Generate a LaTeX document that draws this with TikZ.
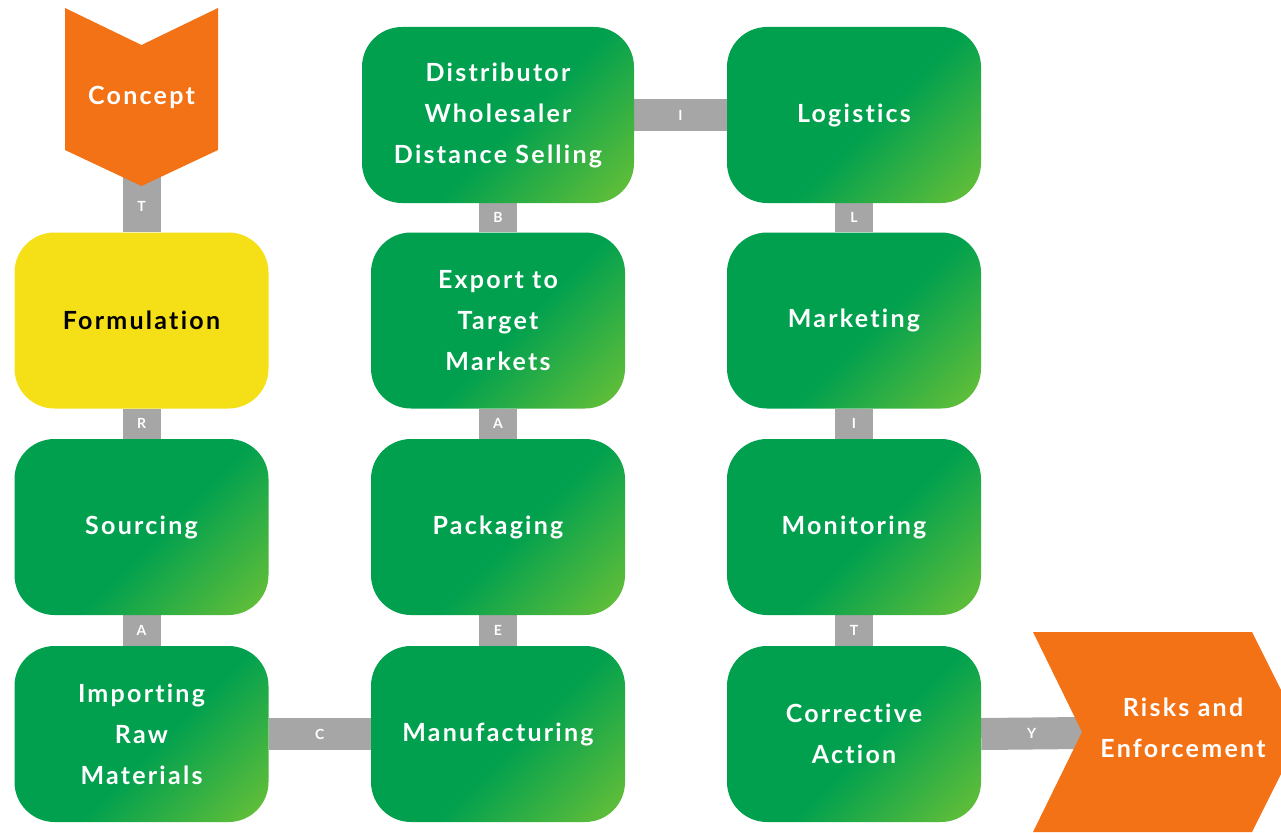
\documentclass[tikz,border=0pt]{standalone}
\usepackage{fontspec}
\setmainfont{Lato}[LetterSpace=9, Ligatures=NoCommon]
\usetikzlibrary{backgrounds}

\definecolor{gdark}{HTML}{00A04F}
\definecolor{glight}{HTML}{6DC236}
\definecolor{corange}{HTML}{F47216}
\definecolor{cyellow}{HTML}{F5DF16}
\definecolor{cgrey}{HTML}{A6A6A6}
\pgfdeclarehorizontalshading{greenfade}{100bp}{color(0bp)=(gdark); color(54bp)=(gdark); color(86bp)=(glight); color(100bp)=(glight)}

\begin{document}
\begin{tikzpicture}[
	x = 1pt, y = -1pt,
	stagebox/.style = {rectangle, rounded corners=40pt, minimum width=254pt, minimum height=176pt,
		align=center, text=white, font=\fontsize{25}{41}\selectfont\bfseries},
	greenbox/.style = {stagebox, shade, shading=greenfade, shading angle=-45},
	yellowbox/.style = {stagebox, fill=cyellow, text=black},
	arrowtext/.style = {align=center, text=white, font=\fontsize{25}{41}\selectfont\bfseries},
	vbar/.style = {cgrey, line width=38pt},
	hbar/.style = {cgrey, line width=32pt},
	barlabel/.style = {text=white, font=\fontsize{14}{14}\selectfont\bfseries}
	]
	\useasboundingbox (0,0) rectangle (1281,832);

	% start and end arrows
	\fill[corange] (65,8) -- (141.5,45) -- (218,8) -- (218,150) -- (141.5,186) -- (65,150) -- cycle;
	\node[arrowtext] (concept) at (141.5,97) {Concept};
	\coordinate (conceptbase) at (141.5,150);

	\fill[corange] (1033,632) -- (1252,632) -- (1302,732) -- (1252,832) -- (1033,832) -- (1082,732) -- cycle;
	\node[arrowtext] (risks) at (1183,728) {Risks and\\Enforcement};
	\coordinate (risksnotch) at (1082,733);

	% stages
	\node[greenbox, minimum width=272pt] (distrib) at (498,115) {Distributor\\Wholesaler\\Distance Selling};
	\node[greenbox] (logist) at (854,115) {Logistics};
	\node[yellowbox] (formul) at (141.5,320.5) {Formulation};
	\node[greenbox] (export) at (498,320.5) {Export to\\Target\\Markets};
	\node[greenbox] (market) at (854,320.5) {Marketing};
	\node[greenbox] (sourc) at (141.5,527) {Sourcing};
	\node[greenbox] (packag) at (498,527) {Packaging};
	\node[greenbox] (monit) at (854,527) {Monitoring};
	\node[greenbox] (import) at (141.5,734) {Importing\\Raw\\Materials};
	\node[greenbox] (manuf) at (498,734) {Manufacturing};
	\node[greenbox] (correct) at (854,734) {Corrective\\Action};

	% links
	\begin{scope}[on background layer]
		\draw[vbar] (conceptbase) -- (formul.north) node[barlabel, pos=0.68] {T};
		\draw[vbar] (formul.south) -- (sourc.north) node[barlabel, midway] {R};
		\draw[vbar] (sourc.south) -- (import.north) node[barlabel, midway] {A};
		\draw[hbar] (import.east) -- (manuf.west) node[barlabel, midway] {C};
		\draw[vbar] (manuf.north) -- (packag.south) node[barlabel, midway] {E};
		\draw[vbar] (packag.north) -- (export.south) node[barlabel, midway] {A};
		\draw[vbar] (export.north) -- (distrib.south) node[barlabel, midway] {B};
		\draw[hbar] (distrib.east) -- (logist.west) node[barlabel, midway] {I};
		\draw[vbar] (logist.south) -- (market.north) node[barlabel, midway] {L};
		\draw[vbar] (market.south) -- (monit.north) node[barlabel, midway] {I};
		\draw[vbar] (monit.south) -- (correct.north) node[barlabel, midway] {T};
		\draw[hbar] (correct.east) -- (risksnotch) node[barlabel, midway] {Y};
	\end{scope}
\end{tikzpicture}
\end{document}
